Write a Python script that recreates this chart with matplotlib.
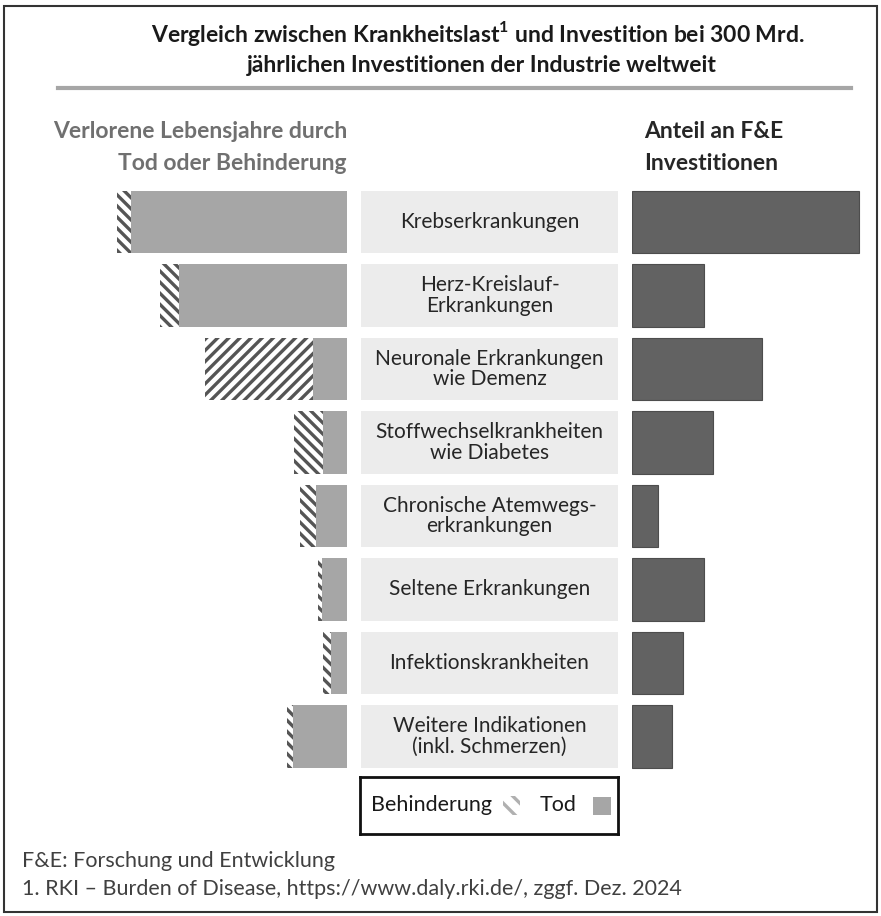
import matplotlib.pyplot as plt
from matplotlib.patches import Rectangle

plt.rcParams['font.family'] = ['Lato', 'DejaVu Sans']
plt.rcParams['mathtext.fontset'] = 'custom'
plt.rcParams['mathtext.bf'] = 'Lato:bold'
plt.rcParams['mathtext.rm'] = 'Lato'
plt.rcParams['hatch.linewidth'] = 2.4

# --- data ---
categories = [
    "Krebserkrankungen",
    "Herz-Kreislauf-\nErkrankungen",
    "Neuronale Erkrankungen\nwie Demenz",
    "Stoffwechselkrankheiten\nwie Diabetes",
    "Chronische Atemwegs-\nerkrankungen",
    "Seltene Erkrankungen",
    "Infektionskrankheiten",
    "Weitere Indikationen\n(inkl. Schmerzen)",
]
# share of lost life years (%), split into death and disability
tod = [27.9, 21.7, 4.4, 3.1, 4.0, 3.2, 2.1, 7.0]
behinderung = [1.8, 2.5, 14.0, 3.8, 2.1, 0.6, 1.0, 0.8]
# share of R&D investment (%)
fe_anteil = [32.5, 10.3, 18.6, 11.6, 3.7, 10.3, 7.3, 5.7]
# direction of hatching used per row
hatches = ["\\\\\\", "\\\\\\", "///", "\\\\\\", "\\\\\\", "\\\\\\", "\\\\\\", "\\\\\\"]

W, H = 881, 916
fig = plt.figure(figsize=(W / 100, H / 100), dpi=100)


def px(x0, y0, x1, y1):
    """pixel box -> figure fraction [left, bottom, width, height]"""
    return [x0 / W, 1 - y1 / H, (x1 - x0) / W, (y1 - y0) / H]


def fx(x):
    return x / W


def fy(y):
    return 1 - y / H


# frame around the whole chart
fig.patches.append(Rectangle((fx(4), fy(912)), fx(877) - fx(4), fy(6) - fy(912),
                             transform=fig.transFigure, fill=False,
                             edgecolor='#333333', linewidth=1.5))

# title + rule
fig.text(fx(478), fy(33), r"Vergleich zwischen Krankheitslast$^\mathbf{1}$ und Investition bei 300 Mrd.",
         ha='center', va='center', fontsize=16.5, fontweight='bold', color='#1a1a1a')
fig.text(fx(482), fy(65), "jährlichen Investitionen der Industrie weltweit",
         ha='center', va='center', fontsize=16.5, fontweight='bold', color='#1a1a1a')
fig.lines.append(plt.Line2D([fx(58), fx(851)], [fy(88), fy(88)], transform=fig.transFigure,
                            color='#a6a6a6', linewidth=3))

# column headers
fig.text(fx(347), fy(132), "Verlorene Lebensjahre durch", ha='right', va='center',
         fontsize=16.5, fontweight='bold', color='#707070')
fig.text(fx(347), fy(164), "Tod oder Behinderung", ha='right', va='center',
         fontsize=16.5, fontweight='bold', color='#707070')
fig.text(fx(644), fy(132), "Anteil an F&E", ha='left', va='center',
         fontsize=16.5, fontweight='bold', color='#262626')
fig.text(fx(644), fy(164), "Investitionen", ha='left', va='center',
         fontsize=16.5, fontweight='bold', color='#262626')

rows = list(range(len(categories)))
ylim = (7.592, -0.571)
bh = 0.855

# left: lost life years
ax_l = fig.add_axes(px(40, 180, 347, 780))
ax_l.barh(rows, tod, height=bh, color='#a6a6a6', linewidth=0)
hb = ax_l.barh(rows, behinderung, left=tod, height=bh, color='white',
               edgecolor='#555555', linewidth=0)
for p, h in zip(hb, hatches):
    p.set_hatch(h)
ax_l.set_xlim(307 / 7.73, 0)
ax_l.set_ylim(*ylim)
ax_l.axis('off')

# centre: category boxes
ax_c = fig.add_axes(px(361, 180, 618, 780))
ax_c.barh(rows, [1] * len(rows), height=bh, color='#ececec', linewidth=0)
for i, cat in enumerate(categories):
    ax_c.text(0.5, i, cat, ha='center', va='center', fontsize=15,
              color='#262626', linespacing=1.02)
ax_c.set_xlim(0, 1)
ax_c.set_ylim(*ylim)
ax_c.axis('off')

# right: R&D share
ax_r = fig.add_axes(px(632, 180, 875, 780))
ax_r.barh(rows, fe_anteil, height=bh, color='#626262', edgecolor='#4d4d4d', linewidth=0.8)
ax_r.set_xlim(0, 243 / 6.99)
ax_r.set_ylim(*ylim)
ax_r.axis('off')

# legend box
ax_leg = fig.add_axes(px(360, 777, 618, 834))
ax_leg.set_xlim(360, 618)
ax_leg.set_ylim(834, 777)
ax_leg.set_xticks([])
ax_leg.set_yticks([])
for s in ax_leg.spines.values():
    s.set_linewidth(2)
    s.set_color('#111111')
ax_leg.text(371, 805, "Behinderung", ha='left', va='center', fontsize=15.5, color='#1a1a1a')
ax_leg.add_patch(Rectangle((503, 796), 17, 19, facecolor='white', edgecolor='#b0b0b0',
                           hatch='\\\\', linewidth=0))
ax_leg.text(540, 805, "Tod", ha='left', va='center', fontsize=15.5, color='#1a1a1a')
ax_leg.add_patch(Rectangle((593, 797), 18, 18, facecolor='#a6a6a6', linewidth=0))

# footnotes
fig.text(fx(22), fy(861), "F&E: Forschung und Entwicklung", ha='left', va='center',
         fontsize=15.5, color='#404040')
fig.text(fx(22), fy(889), "1. RKI – Burden of Disease, https://www.daly.rki.de/, zggf. Dez. 2024",
         ha='left', va='center', fontsize=15.5, color='#404040')

fig.savefig("out.png", dpi=100)
